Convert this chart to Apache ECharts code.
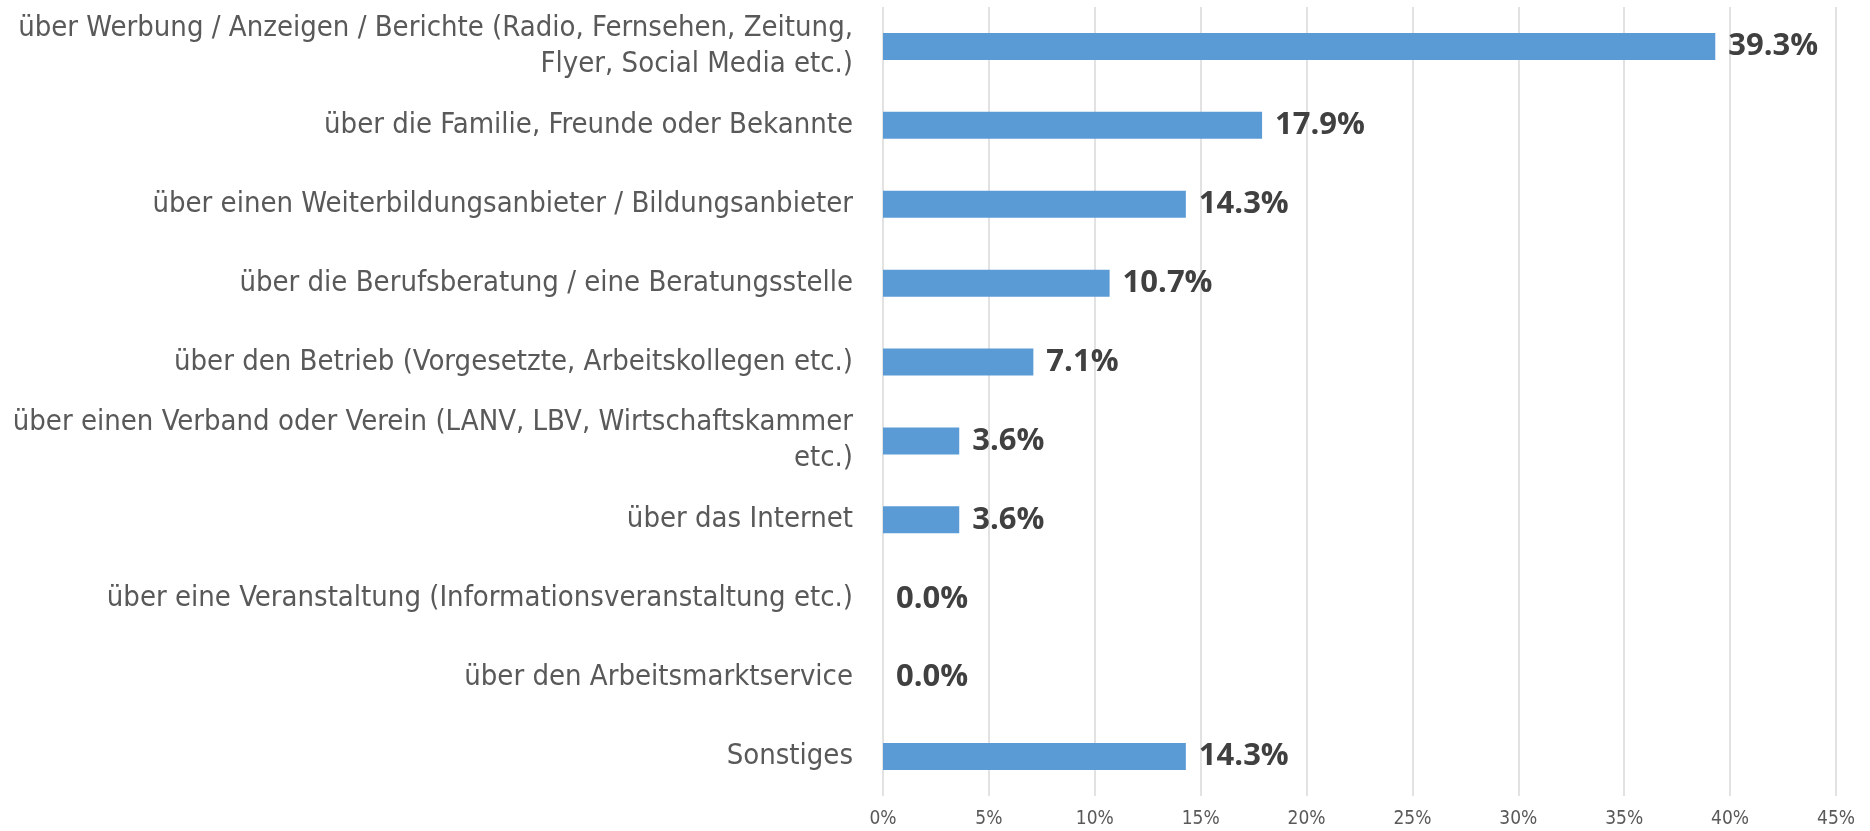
<!DOCTYPE html>
<html>
<head>
<meta charset="utf-8">
<title>Informationsquellen</title>
<style>
html,body{margin:0;padding:0;background:#fff;}
#chart{width:1870px;height:831px;}
</style>
</head>
<body>
<div id="chart"></div>
<script src="https://cdn.jsdelivr.net/npm/echarts@6/dist/echarts.min.js"></script>
<script>
// Kategorien (von oben nach unten)
var categories = [
  'über Werbung / Anzeigen / Berichte (Radio, Fernsehen, Zeitung,\nFlyer, Social Media etc.)',
  'über die Familie, Freunde oder Bekannte',
  'über einen Weiterbildungsanbieter / Bildungsanbieter',
  'über die Berufsberatung / eine Beratungsstelle',
  'über den Betrieb (Vorgesetzte, Arbeitskollegen etc.)',
  'über einen Verband oder Verein (LANV, LBV, Wirtschaftskammer\netc.)',
  'über das Internet',
  'über eine Veranstaltung (Informationsveranstaltung etc.)',
  'über den Arbeitsmarktservice',
  'Sonstiges'
];
var values = [39.3, 17.9, 14.3, 10.7, 7.1, 3.6, 3.6, 0.0, 0.0, 14.3];
var axisMax = 45;
var axisStep = 5;

var chart = echarts.init(document.getElementById('chart'));
var option = {
  animation: false,
  grid: {left: 883, right: 34, top: 7, bottom: 35, outerBoundsMode: 'none', containLabel: false},
  xAxis: {
    type: 'value',
    min: 0,
    max: axisMax,
    interval: axisStep,
    axisLine: {show: false},
    axisTick: {show: false},
    splitLine: {show: true, lineStyle: {color: '#D9D9D9', width: 1.5}},
    axisLabel: {
      formatter: '{value}%',
      color: '#595959',
      fontSize: 19,
      fontFamily: 'Liberation Sans Narrow, DejaVu Sans Condensed, sans-serif',
      margin: 14
    }
  },
  yAxis: {
    type: 'category',
    inverse: true,
    data: categories,
    axisLine: {show: false},
    axisTick: {show: false},
    axisLabel: {
      color: '#595959',
      fontSize: 29,
      lineHeight: 36,
      align: 'right',
      margin: 30,
      fontFamily: 'Liberation Sans Narrow, DejaVu Sans Condensed, sans-serif'
    }
  },
  series: [{
    type: 'bar',
    data: values,
    barWidth: 27,
    itemStyle: {color: '#5B9BD5'},
    label: {
      show: true,
      position: 'right',
      distance: 13,
      color: '#404040',
      fontSize: 31,
      fontWeight: 'bold',
      fontFamily: 'Open Sans, sans-serif',
      formatter: function (p) { return p.value.toFixed(1) + '%'; }
    }
  }]
};
chart.setOption(option);
</script>
</body>
</html>
